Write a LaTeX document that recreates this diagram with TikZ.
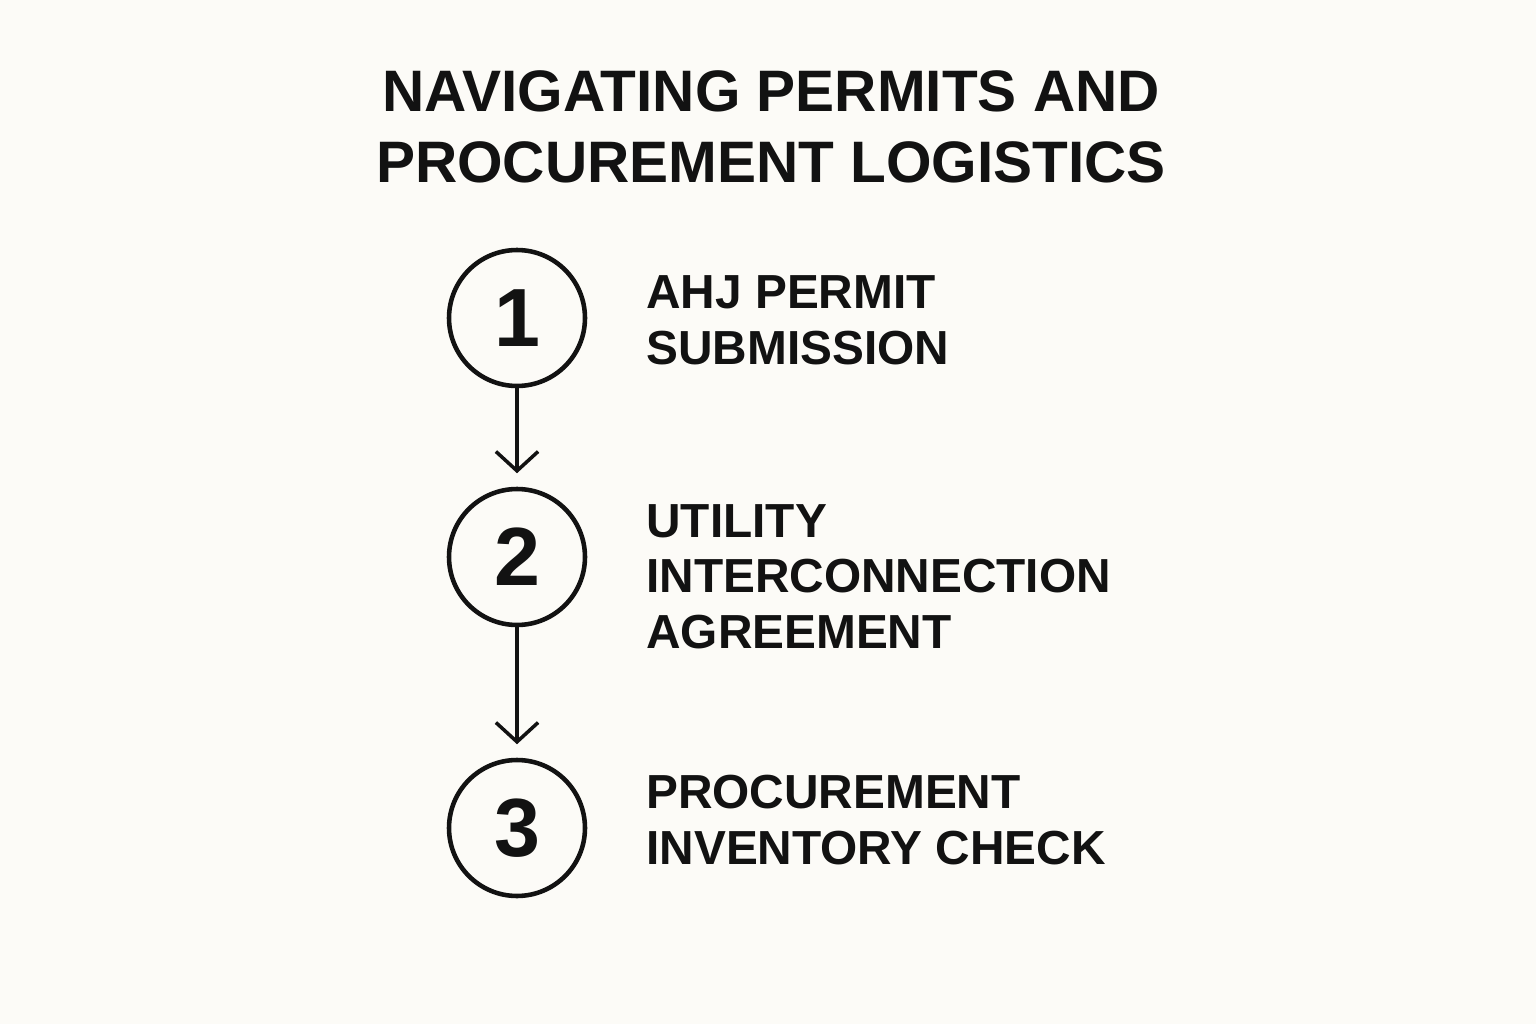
\documentclass[tikz,border=0pt]{standalone}
\usepackage{fontspec}
\setmainfont{Liberation Sans}
\usetikzlibrary{arrows.meta,positioning}
\definecolor{paperbg}{RGB}{252,251,247}
\definecolor{inkdark}{RGB}{18,18,18}
\tikzset{
  stepcircle/.style={circle,draw=inkdark,line width=2.6pt,minimum size=2.72cm,inner sep=0pt,
    text=inkdark,font=\fontsize{47}{56}\selectfont\bfseries},
  steplabel/.style={anchor=base west,inner sep=0pt,align=left,text=inkdark,
    font=\fontsize{27.2}{31.5}\selectfont\bfseries},
  flowarrow/.style={draw=inkdark,line width=2pt,shorten >=0.27cm,
    -{Straight Barb[length=11pt,width=24pt]}}
}

\begin{document}
\begin{tikzpicture}[x=0.02cm,y=-0.02cm]
\useasboundingbox[fill=paperbg] (0,0) rectangle (1536,1024);
% heading (base = last line)
\node (title) [anchor=base,inner sep=0pt,align=center,text=inkdark,
  font=\fontsize{33.3}{40.8}\selectfont\bfseries] at (771,183)
  {NAVIGATING PERMITS AND\\PROCUREMENT LOGISTICS};
% steps
\node (c1) [stepcircle] at (517,318) {1};
\node (c2) [stepcircle] at (517,557) {2};
\node (c3) [stepcircle] at (517,828) {3};
\node (l1) [steplabel] at (646,364) {AHJ PERMIT\\SUBMISSION};
\node (l2) [steplabel] at (646,648) {UTILITY\\INTERCONNECTION\\AGREEMENT};
\node (l3) [steplabel] at (646,864) {PROCUREMENT\\INVENTORY CHECK};
% arrows
\draw[flowarrow] (c1) -- (c2);
\draw[flowarrow] (c2) -- (c3);
\end{tikzpicture}
\end{document}
